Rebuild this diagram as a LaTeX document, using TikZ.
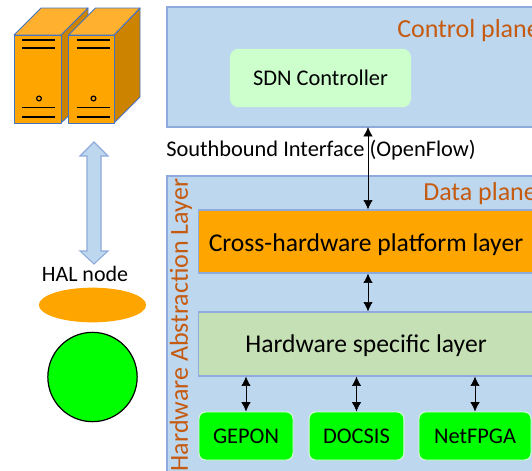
\documentclass[tikz,border=0pt]{standalone}
\usepackage{fontspec}
\setmainfont{Carlito}
\usetikzlibrary{arrows.meta,shapes.geometric,shapes.arrows}
\definecolor{panelblue}{HTML}{BDD7EE}
\definecolor{edgeblue}{HTML}{8FAADC}
\definecolor{burnt}{HTML}{C55A11}
\definecolor{amber}{HTML}{FFA500}
\definecolor{amberlight}{HTML}{FFB02E}
\definecolor{amberdark}{HTML}{CC8400}
\definecolor{serveredge}{HTML}{4472C4}
\definecolor{hsgreen}{HTML}{C5E0B4}
\tikzset{
  x=0.75pt,y=-0.75pt,
  panel/.style={draw=edgeblue,line width=0.9pt,fill=panelblue,inner sep=0pt},
  layerbox/.style={draw=edgeblue,line width=0.9pt,inner sep=0pt,font=\fontsize{19.2}{22}\selectfont},
  hwbox/.style={draw=white!85!green,line width=0.7pt,fill=green,rounded corners=5pt,inner sep=0pt,minimum height=36pt,font=\fontsize{16.8}{20}\selectfont},
  dbl/.style={{Latex[length=7pt,width=7pt]}-{Latex[length=7pt,width=7pt]},black,line width=0.5pt},
  plane/.style={text=burnt,font=\fontsize{19.5}{22}\selectfont,inner sep=0pt},
  srvline/.style={black,line width=0.9pt},
  srvedge/.style={draw=serveredge,line width=0.7pt,line join=round},
}
\newcommand{\serverbox}[3]{% x-left, x-right, x-back
  \fill[amberdark] (#2,35) -- (#3,8) -- (#3,97) -- (#2,123) -- cycle;
  \draw[srvedge] (#2,35) -- (#3,8) -- (#3,97) -- (#2,123);
  \filldraw[fill=amberlight,srvedge] (#1,35) -- (#1+27,8) -- (#3,8) -- (#2,35) -- cycle;
  \filldraw[fill=amber,srvedge] (#1,35) rectangle (#2,123);
  \draw[srvline] (#1+8,40) -- (#1+41,40);
  \draw[srvline] (#1+8,48) -- (#1+41,48);
  \draw[srvline] (#1+8,107.5) -- (#1+41,107.5);
  \draw[srvline] (#1+8,117) -- (#1+41,117);
  \draw[black,line width=0.9pt] (#1+25,98.5) circle (2.4);
}
\begin{document}
\begin{tikzpicture}
\useasboundingbox (0,0) rectangle (532,471);
\clip (0,0) rectangle (532,471);
% servers
\serverbox{14}{61}{88}
\serverbox{68.5}{114}{140}
% double block arrow
\filldraw[fill=panelblue,draw=edgeblue,line width=0.8pt,line join=miter]
  (94,142) -- (108,156) -- (101,156) -- (101,251) -- (108,251) -- (94,264)
  -- (80,251) -- (87,251) -- (87,156) -- (80,156) -- cycle;
\node[inner sep=0pt,font=\fontsize{16.5}{20}\selectfont] (hal) at (85,274) {HAL node};
\node[ellipse,fill=amber,minimum width=80.5pt,minimum height=26pt,inner sep=0pt] (halell) at (92.5,305) {};
\node[circle,draw=black,line width=0.9pt,fill=green,minimum size=67pt,inner sep=0pt] (halcirc) at (92.5,377) {};
% planes
\path[panel] (167,7) rectangle (560,127);
\coordinate (ctrlb) at (368,127);
\node[plane,anchor=west] (ctrltxt) at (397,31) {Control plane};
\path[panel] (167,176) rectangle (560,490);
\node[plane,anchor=west] (datatxt) at (423,193.5) {Data plane};
\node[plane,rotate=90] (haltxt) at (181,325) {Hardware Abstraction Layer};
% SDN
\node[draw=white!80!green,line width=0.8pt,fill=green!20,rounded corners=6pt,minimum width=135pt,minimum height=43pt,inner sep=0pt,font=\fontsize{16.8}{20}\selectfont] (sdn) at (320.5,78) {SDN Controller};
\node[inner sep=0pt,anchor=west,font=\fontsize{16.8}{20}\selectfont] (sb) at (166,150) {Southbound Interface (OpenFlow)};
% layers
\node[layerbox,fill=amber,minimum width=251pt,minimum height=47.25pt] (cross) at (366,241.5) {\rule{0pt}{18pt}Cross-hardware platform layer};
\node[layerbox,fill=hsgreen,minimum width=251pt,minimum height=48pt] (hs) at (366,344) {\rule{0pt}{15.7pt}Hardware specific layer};
% hw
\node[hwbox,minimum width=70.5pt] (gepon) at (246,436) {\rule{0pt}{12pt}GEPON};
\node[hwbox,minimum width=71pt] (docsis) at (356.5,436) {\rule{0pt}{12pt}DOCSIS};
\node[hwbox,minimum width=84pt] (netfpga) at (475,436) {\rule{0pt}{12pt}NetFPGA};
% connectors
\draw[dbl] (ctrlb) -- (ctrlb |- cross.north);
\draw[dbl] (ctrlb |- cross.south) -- (ctrlb |- hs.north);
\draw[dbl] (hs.south -| gepon.north) -- (gepon.north);
\draw[dbl] (hs.south -| docsis.north) -- (docsis.north);
\draw[dbl] (hs.south -| netfpga.north) -- (netfpga.north);
\end{tikzpicture}
\end{document}
